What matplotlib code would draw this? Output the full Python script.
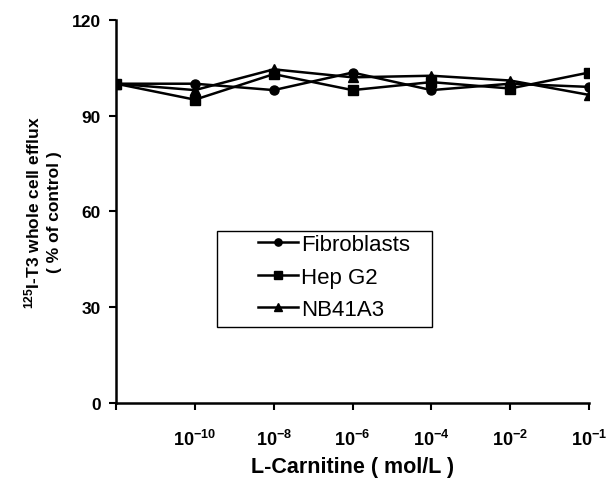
import numpy as np
import matplotlib
matplotlib.use('Agg')
import matplotlib.pyplot as plt
from matplotlib.patches import Rectangle

plt.rcParams['font.family'] = ['Liberation Sans', 'DejaVu Sans']
plt.rcParams['mathtext.fontset'] = 'custom'
plt.rcParams['mathtext.rm'] = 'Liberation Sans:bold'
plt.rcParams['mathtext.bf'] = 'Liberation Sans:bold'
plt.rcParams['mathtext.it'] = 'Liberation Sans:bold'
plt.rcParams['mathtext.default'] = 'bf'

# L-carnitine concentrations (control first, unlabelled)
conc_labels = ['', '$10^{-10}$', '$10^{-8}$', '$10^{-6}$', '$10^{-4}$', '$10^{-2}$', '$10^{-1}$']

# whole cell efflux, % of control
fibroblasts = [100, 100, 98, 103.5, 98, 100, 99]
hep_g2 = [100, 95, 103, 98, 100.5, 98.5, 103.5]
nb41a3 = [100, 98, 104.5, 102, 102.5, 101, 96.5]

x = np.arange(len(conc_labels))

fig = plt.figure(figsize=(6.11, 4.85), dpi=100)
ax = fig.add_axes([0.190, 0.167, 0.774, 0.790])

style = dict(color='black', lw=1.8, markersize=6.5)
ax.plot(x, fibroblasts, marker='o', label='Fibroblasts', **style)
ax.plot(x, hep_g2, marker='s', label='Hep G2', **style)
ax.plot(x, nb41a3, marker='^', label='NB41A3', **style)

ax.set_xlim(0, 6)
ax.set_ylim(0, 120)
ax.set_yticks([0, 30, 60, 90, 120])
ax.set_xticks(x)
ax.set_xticklabels(conc_labels)

for side in ['top', 'right']:
	ax.spines[side].set_visible(False)
for side in ['left', 'bottom']:
	ax.spines[side].set_linewidth(1.8)
	ax.spines[side].set_zorder(1)

ax.tick_params(axis='both', direction='out', length=5, width=1.5)
ax.tick_params(axis='y', pad=6, labelsize=12.5)
ax.tick_params(axis='x', pad=13.5, labelsize=13)
for lab in ax.get_yticklabels() + ax.get_xticklabels():
	lab.set_fontweight('bold')

ax.set_xlabel('L-Carnitine ( mol/L )', fontsize=15.5, fontweight='bold', labelpad=5)
ax.set_ylabel('$^{125}$I-T3 whole cell efflux\n( % of control )', fontsize=12.5,
	fontweight='bold', labelpad=7, linespacing=1.4)

# legend text without frame, box drawn separately (wide left margin)
leg = ax.legend(loc='upper left', bbox_to_anchor=(0.300, 0.441), fontsize=16,
	frameon=False, handlelength=1.8, handletextpad=0.15, markerscale=0.8,
	labelspacing=0.52, borderpad=0, borderaxespad=0)
ax.add_patch(Rectangle((0.2135, 0.199), 0.455, 0.250, transform=ax.transAxes,
	fill=False, edgecolor='black', lw=1.0, clip_on=False))

fig.savefig('out.png', dpi=100)
